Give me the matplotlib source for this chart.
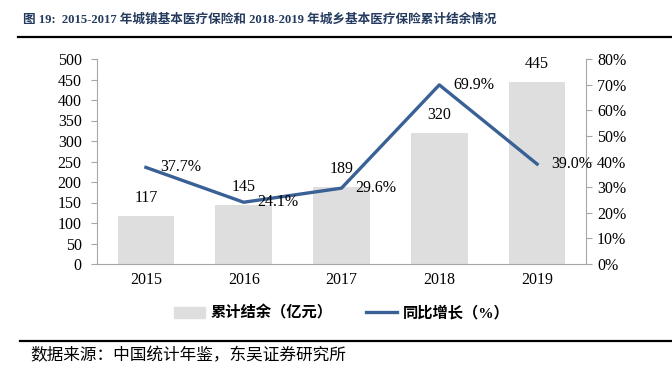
import numpy as np
import matplotlib.pyplot as plt
from matplotlib.lines import Line2D
from matplotlib.patches import Patch

plt.rcParams['font.family'] = ['Liberation Serif', 'Noto Sans CJK SC']

years = ["2015", "2016", "2017", "2018", "2019"]
balance = [117, 145, 189, 320, 445]          # 累计结余（亿元）
growth = [37.7, 24.1, 29.6, 69.9, 39.0]      # 同比增长（%）

title = "图 19:  2015-2017 年城镇基本医疗保险和 2018-2019 年城乡基本医疗保险累计结余情况"
source = "数据来源：中国统计年鉴，东吴证券研究所"

bar_color = "#dedede"
line_color = "#3a6195"
spine_color = "#a6a6a6"
title_color = "#243a5e"

fig = plt.figure(figsize=(6.72, 3.81), dpi=100)
ax = fig.add_axes([97 / 672, 1 - 264 / 381, (586 - 97) / 672, (264 - 59) / 381])
ax2 = ax.twinx()

x = np.arange(len(years))
ax.bar(x, balance, width=0.58, color=bar_color, zorder=1)
ax.set_xlim(-0.5, len(years) - 0.5)
ax.set_ylim(0, 500)
ax.set_yticks(np.arange(0, 501, 50))
ax.set_xticks(x)
ax.set_xticklabels(years)

for xi, v in zip(x, balance):
    ax.annotate(f"{v}", (xi, v), xytext=(0, 7), textcoords="offset points",
                ha="center", va="bottom", fontsize=11.5)

ax2.plot(x, growth, color=line_color, lw=2.4, zorder=3)
ax2.set_ylim(0, 80)
ax2.set_yticks(np.arange(0, 81, 10))
ax2.set_yticklabels([f"{t}%" for t in range(0, 81, 10)])
for xi, v in zip(x, growth):
    ax2.annotate(f"{v:.1f}%", (xi, v), xytext=(10, 0), textcoords="offset points",
                 ha="left", va="center", fontsize=11.5)

for a in (ax, ax2):
    a.spines["top"].set_visible(False)
    for s in ("left", "right", "bottom"):
        a.spines[s].set_color(spine_color)
    a.tick_params(colors=spine_color, labelcolor="black", labelsize=11.5, length=4)
ax.tick_params(axis="y", pad=7)
ax2.tick_params(axis="y", pad=4)
ax.tick_params(axis="x", length=0, pad=6)
ax.spines["right"].set_visible(False)
ax2.spines["left"].set_visible(False)
ax2.spines["bottom"].set_visible(False)

handles = [Patch(color=bar_color), Line2D([], [], color=line_color, lw=2.4)]
labels = ["累计结余（亿元）", "同比增长（%）"]
fig.legend(handles, labels, loc="center", bbox_to_anchor=(342 / 672, 1 - 313 / 381),
           ncol=2, frameon=False, prop={"size": 11, "weight": "bold"},
           handlelength=2.0, columnspacing=2.2, handletextpad=0.4)

fig.text(23 / 672, 1 - 19 / 381, title, fontsize=9.1, fontweight="bold",
         color=title_color, va="center", ha="left")
fig.add_artist(Line2D([18 / 672, 1], [1 - 37 / 381] * 2, color="black", lw=1.6))
fig.add_artist(Line2D([20 / 672, 1], [1 - 341 / 381] * 2, color="black", lw=1.6))
fig.text(30 / 672, 1 - 356 / 381, source, fontsize=12, va="center", ha="left")

fig.savefig("out.png", dpi=100)
